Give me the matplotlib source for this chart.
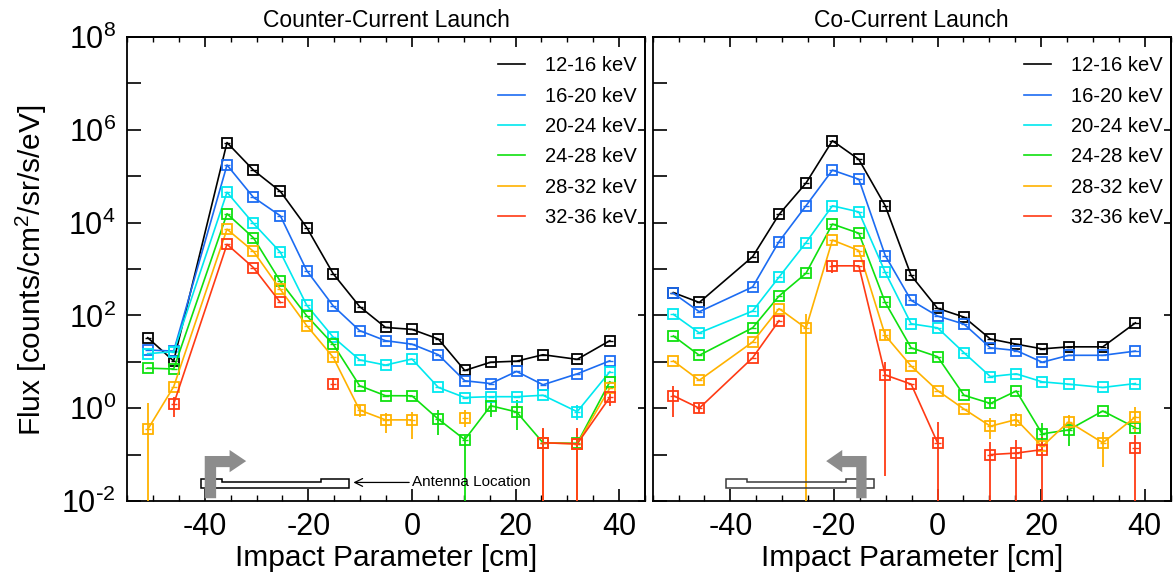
import numpy as np
import matplotlib
matplotlib.use("Agg")
import matplotlib.pyplot as plt
import matplotlib.transforms as mtransforms
from matplotlib.lines import Line2D
from matplotlib.patches import Polygon
from matplotlib.ticker import MultipleLocator, NullLocator

nan = np.nan

plt.rcParams.update({
    "font.family": ["Liberation Sans", "DejaVu Sans"],
    "mathtext.default": "regular",
    "axes.unicode_minus": False,
    "axes.linewidth": 1.3,
})

# --- data -----------------------------------------------------------------
IMPACT_CM = [-51, -46, -35.7, -30.6, -25.4, -20.3, -15.2, -10.1, -5.1, 0.0,
             5.1, 10.2, 15.2, 20.2, 25.3, 31.9, 38.2]
CHANNELS = ["12-16 keV", "16-20 keV", "20-24 keV", "24-28 keV", "28-32 keV",
            "32-36 keV"]
COLORS = ["#000000", "#1c6cf2", "#00e8ef", "#0fe00f", "#ffb200", "#ff3a14"]

# counter-current launch
CC_12_16 = [33, 10.4, 5.3e5, 1.35e5, 4.7e4, 7.8e3, 790, 155, 55, 50, 31, 6.5,
            9.8, 10.3, 14.2, 11.3, 28.5]
CC_16_20 = [18, 17, 1.74e5, 3.5e4, 1.4e4, 920, 160, 47, 28.5, 24, 14.2, 3.9,
            3.4, 6.2, 3.2, 5.5, 10.5]
CC_20_24 = [15, 16.5, 4.5e4, 9.6e3, 2.3e3, 165, 34, 11, 8.5, 11.5, 2.8, 1.7,
            1.77, 1.77, 1.9, 0.84, 6.1]
CC_24_28 = [7.3, 7.0, 1.55e4, 4.7e3, 540, 98, 23.8, 3.05, 1.86, 1.85, 0.58,
            0.21, 1.13, 0.83, 0.18, 0.175, 3.7]
CC_28_32 = [0.35, 2.9, 7.2e3, 2.4e3, 363, 60, 12.5, 0.91, 0.56, 0.56, nan, 0.6,
            nan, nan, 0.18, 0.17, 2.7]
CC_32_36 = [nan, 1.23, 3.4e3, 1.07e3, 190, nan, 3.4, nan, nan, nan, nan, nan,
            nan, nan, 0.18, 0.17, 1.72]

# co-current launch
CO_12_16 = [310, 190, 1.84e3, 1.5e4, 7.1e4, 5.8e5, 2.3e5, 2.3e4, 725, 142, 92,
            31, 24, 19, 21, 21, 69]
CO_16_20 = [300, 120, 410, 3.9e3, 2.3e4, 1.35e5, 8.6e4, 1.95e3, 211, 97, 65,
            20, 17.5, 9.8, 13.8, 13.8, 17]
CO_20_24 = [105, 42, 124, 670, 3.7e3, 2.3e4, 1.7e4, 850, 66, 54, 15.7, 4.8,
            5.5, 3.7, 3.3, 2.8, 3.4]
CO_24_28 = [36, 13.8, 54, 262, 807, 9.3e3, 5.9e3, 190, 20, 12.9, 1.9, 1.27,
            2.35, 0.28, 0.34, 0.87, 0.38]
CO_28_32 = [10.4, 4.0, 26.7, 140, 53, 4.2e3, 2.5e3, 37, 8.1, 2.4, 0.96, 0.41,
            0.57, 0.15, 0.51, 0.18, 0.65]
CO_32_36 = [1.86, 1.0, 12.2, 77, nan, 1.17e3, 1.17e3, 5.2, 3.3, 0.18, nan, 0.1,
            0.108, 0.128, nan, nan, 0.137]

# visible error bars: (channel, point index, low, high); 1e-3 = off the axis
CC_ERRBARS = [(4, 0, 1e-3, 1.27), (5, 1, 0.66, 1.77), (5, 6, 2.5, 4.5),
              (4, 7, 0.66, 1.17), (4, 8, 0.29, 0.79), (4, 9, 0.22, 0.84),
              (3, 10, 0.26, 0.91), (3, 11, 1e-3, 0.25), (4, 11, 0.4, 0.91),
              (3, 12, 0.66, 1.48), (3, 13, 0.34, 1.48), (2, 15, 0.55, 1.17),
              (4, 14, 1e-3, 0.35), (4, 15, 1e-3, 0.35), (5, 14, 1e-3, 0.37),
              (5, 15, 1e-3, 0.37), (5, 16, 1.1, 2.1)]
CO_ERRBARS = [(5, 0, 0.64, 3.0), (5, 1, 0.8, 1.25), (4, 4, 1e-3, 107),
              (5, 5, 800, 1.4e3), (4, 7, 30, 45), (5, 7, 0.035, 10),
              (5, 9, 1e-3, 0.51), (3, 11, 1.0, 1.65), (4, 11, 0.22, 0.6),
              (4, 12, 0.4, 0.78), (3, 13, 0.15, 0.47), (3, 14, 0.15, 0.43),
              (4, 14, 0.34, 0.71), (4, 15, 0.055, 0.31), (4, 16, 0.29, 1.07),
              (5, 11, 1e-3, 0.19), (5, 12, 1e-3, 0.21), (5, 13, 1e-3, 0.24),
              (5, 16, 1e-3, 0.26)]

# antenna outline ends/steps [cm] and launch arrows (stem in cm)
ANTENNA_CM = [-40.8, -36.7, -17.6, -12.2]
ARROW_CC = (-40.0, -37.8, -35.2, -32.0)   # stem left, stem right, head base, tip
ARROW_CO = (-13.7, -15.7, -18.4, -21.5)

XLIM = (-55, 45)
YLIM = (1e-2, 1e8)


def draw_antenna(ax, edge):
    tr = mtransforms.blended_transform_factory(ax.transData, ax.transAxes)
    a, b, c, d = ANTENNA_CM
    hi, mid, lo = 0.048, 0.040, 0.029
    pts = [(a, hi), (b, hi), (b, mid), (c, mid), (c, hi), (d, hi), (d, lo), (a, lo)]
    ax.add_patch(Polygon(pts, closed=True, fill=False, edgecolor=edge,
                         linewidth=1.1, transform=tr, zorder=6))


def draw_arrow(ax, spec):
    tr = mtransforms.blended_transform_factory(ax.transData, ax.transAxes)
    s0, s1, hb, tip = spec
    pts = [(s0, 0.006), (s1, 0.006), (s1, 0.073), (hb, 0.073), (hb, 0.062),
           (tip, 0.086), (hb, 0.110), (hb, 0.097), (s0, 0.097)]
    ax.add_patch(Polygon(pts, closed=True, facecolor="#8c8c8c",
                         edgecolor="none", transform=tr, zorder=7))


def decade_label(k):
    exp = f"\\text{{-}}{-k}" if k < 0 else str(k)
    return f"$\\mathdefault{{10^{{{exp}}}}}$"


def panel(ax, series, errbars, title, show_ylabels):
    for vals, col in zip(series, COLORS):
        ax.errorbar(IMPACT_CM, vals, xerr=0.6, fmt="none", ecolor=col,
                    elinewidth=1.0, zorder=3)
        ax.plot(IMPACT_CM, vals, "-s", color=col, mfc="none", ms=6.5, mew=1.3,
                lw=1.2, zorder=4)
    for ch, i, lo, hi in errbars:
        ax.vlines(IMPACT_CM[i], lo, hi, color=COLORS[ch], lw=1.3, zorder=3)

    ax.set_yscale("log")
    ax.set_xlim(*XLIM)
    ax.set_ylim(*YLIM)

    decades = list(range(-2, 9))
    ax.set_yticks([10.0 ** k for k in decades])
    ax.yaxis.set_minor_locator(NullLocator())
    if show_ylabels:
        ax.set_yticklabels([decade_label(k) if k % 2 == 0 else ""
                            for k in decades])
    else:
        ax.set_yticklabels([])
    ax.tick_params(axis="y", which="major", direction="in", length=10,
                   width=1.2, left=True, right=False, labelsize=22, pad=8)

    ax.set_xticks([-40, -20, 0, 20, 40])
    ax.xaxis.set_minor_locator(MultipleLocator(5))
    ax.tick_params(axis="x", which="major", direction="in", length=9,
                   width=1.2, top=False, labelsize=22, pad=8)
    ax.tick_params(axis="x", which="minor", direction="in", length=4.5,
                   width=1.0, top=False)

    top = ax.secondary_xaxis("top")
    top.set_xticks([-40, -20, 0, 20, 40])
    top.xaxis.set_minor_locator(MultipleLocator(5))
    top.tick_params(which="major", direction="in", length=7, width=1.2,
                    labeltop=False)
    top.tick_params(which="minor", direction="in", length=3.5, width=1.0)
    right = ax.secondary_yaxis("right")
    right.set_yticks([10.0 ** k for k in decades if k % 2 == 0])
    right.yaxis.set_minor_locator(NullLocator())
    right.tick_params(which="major", direction="in", length=5, width=1.2,
                      labelright=False)

    ax.set_xlabel("Impact Parameter [cm]", fontsize=21.5, labelpad=1)
    ax.set_title(title, fontsize=16.5, pad=7)
    handles = [Line2D([], [], color=c, lw=1.2) for c in COLORS]
    ax.legend(handles, CHANNELS, loc="upper right",
              bbox_to_anchor=(0.985, 0.958), frameon=False, fontsize=14.5,
              handlelength=1.35, handletextpad=1.0, labelspacing=0.56,
              borderpad=0, borderaxespad=0)


fig = plt.figure(figsize=(11.73, 5.76), dpi=100)
ax1 = fig.add_axes([0.1083, 0.1302, 0.4416, 0.8056])
ax2 = fig.add_axes([0.5564, 0.1302, 0.4416, 0.8056])

panel(ax1, [CC_12_16, CC_16_20, CC_20_24, CC_24_28, CC_28_32, CC_32_36],
      CC_ERRBARS, "Counter-Current Launch", True)
panel(ax2, [CO_12_16, CO_16_20, CO_20_24, CO_24_28, CO_28_32, CO_32_36],
      CO_ERRBARS, "Co-Current Launch", False)

draw_antenna(ax1, "black")
draw_arrow(ax1, ARROW_CC)
draw_antenna(ax2, "#3a3a3a")
draw_arrow(ax2, ARROW_CO)

tr1 = mtransforms.blended_transform_factory(ax1.transData, ax1.transAxes)
ax1.annotate("Antenna Location", xy=(-11.3, 0.040), xycoords=tr1,
             xytext=(0.0, 0.040), textcoords=tr1, fontsize=11, va="center",
             ha="left",
             arrowprops=dict(arrowstyle="->", color="black", lw=0.9,
                             shrinkA=0, shrinkB=0, mutation_scale=14))

fig.text(0.027, 0.53, "Flux [counts/cm$^2$/sr/s/eV]", rotation=90,
         fontsize=21.5, ha="center", va="center")

fig.savefig("out.png", dpi=100)
